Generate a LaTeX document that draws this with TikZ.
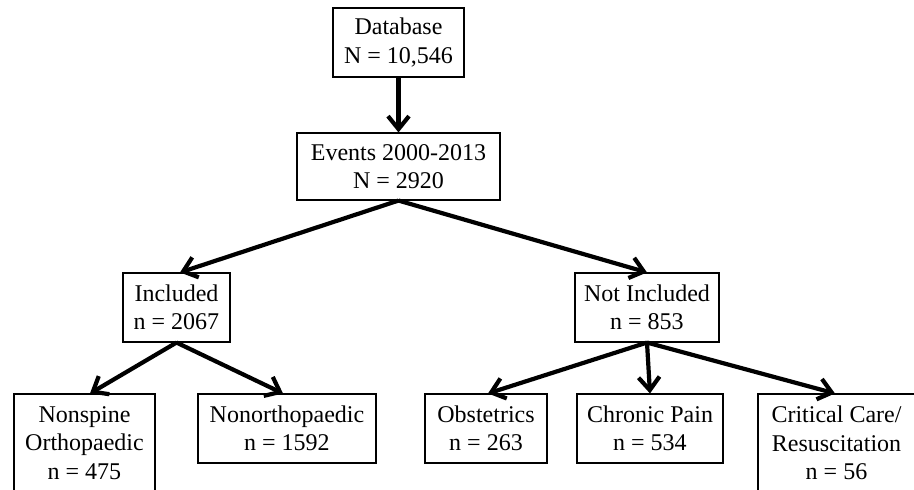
\documentclass[tikz,border=0pt]{standalone}
\usepackage{fontspec}
\setmainfont{Liberation Serif}
\usetikzlibrary{arrows.meta}
\begin{document}
\begin{tikzpicture}[x=1pt,y=-1pt,
  box/.style={draw=black,line width=1.1pt,inner sep=0pt,align=center,
    font=\fontsize{24}{28.5}\selectfont},
  conn/.style={line width=4.2pt,-{Straight Barb[length=13pt,width=21pt]}}]
\useasboundingbox (0,0) rectangle (914,490);
\clip (0,0) rectangle (914,490);
\node[box,minimum width=131pt,minimum height=69pt] (db) at (398.5,42.5) {Database\\N = 10,546};
\node[box,minimum width=203pt,minimum height=67pt] (ev) at (398.5,166.5) {Events 2000-2013\\N = 2920};
\node[box,minimum width=107pt,minimum height=69pt] (inc) at (176.5,307.5) {Included\\n = 2067};
\node[box,minimum width=144pt,minimum height=69pt] (ninc) at (647,307.5) {Not Included\\n = 853};
\node[box,minimum width=141pt,minimum height=98pt] (nons) at (84.5,443) {Nonspine\\Orthopaedic\\n = 475};
\node[box,minimum width=178pt,minimum height=69pt] (nonor) at (287,428.5) {Nonorthopaedic\\n = 1592};
\node[box,minimum width=122pt,minimum height=69pt] (obs) at (486,428.5) {Obstetrics\\n = 263};
\node[box,minimum width=146pt,minimum height=69pt] (chr) at (650,428.5) {Chronic Pain\\n = 534};
\node[box,minimum width=157pt,minimum height=98pt] (crit) at (836.5,443) {Critical Care/\\Resuscitation\\n = 56};
\draw[conn] (db.south) -- (ev.north);
\draw[conn] (ev.south) -- ([xshift=3.5pt]inc.north);
\draw[conn] (ev.south) -- (ninc.north);
\draw[conn] (inc.south) -- ([xshift=5.5pt]nons.north);
\draw[conn] (inc.south) -- ([xshift=-4pt]nonor.north);
\draw[conn] (ninc.south) -- ([xshift=2pt]obs.north);
\draw[conn] (ninc.south) -- (chr.north);
\draw[conn] (ninc.south) -- ([xshift=-1.5pt]crit.north);
\end{tikzpicture}
\end{document}
